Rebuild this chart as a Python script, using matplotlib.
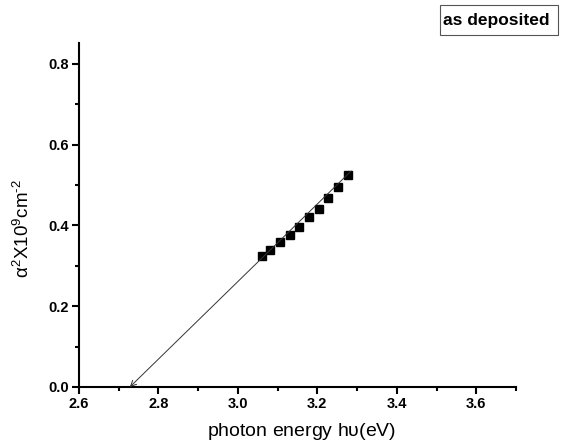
import numpy as np
import matplotlib
matplotlib.use("Agg")
import matplotlib.pyplot as plt
from matplotlib.ticker import MultipleLocator, FormatStrFormatter
from matplotlib.patches import Rectangle

plt.rcParams.update({
    "font.family": ["Liberation Sans", "DejaVu Sans"],
    "mathtext.fontset": "custom",
    "mathtext.rm": "Liberation Sans",
    "mathtext.it": "Liberation Sans",
    "mathtext.bf": "Liberation Sans:bold",
})

# ── datos ───────────────────────────────────────────────────
energia = [3.060, 3.082, 3.107, 3.130, 3.154, 3.179, 3.204, 3.228, 3.253, 3.278]
alfa2 = [0.324, 0.339, 0.358, 0.376, 0.396, 0.421, 0.441, 0.469, 0.496, 0.524]

# recta de ajuste extrapolada hasta el eje (Eg ~ 2.73 eV)
ajuste_x = [3.285, 2.728]
ajuste_y = [0.535, 0.0]

W, H = 563, 445
fig = plt.figure(figsize=(W / 100, H / 100), dpi=100)
ax = fig.add_axes([79 / W, 1 - 387 / H, 437 / W, 344 / H])

ax.plot(energia, alfa2, "s", color="black", ms=5.3, zorder=3)
ax.annotate("", xy=(ajuste_x[1], ajuste_y[1]), xytext=(ajuste_x[0], ajuste_y[0]),
            arrowprops=dict(arrowstyle="->", color="#333333", lw=0.7,
                            shrinkA=0, shrinkB=0, mutation_scale=10))

ax.set_xlim(2.6, 3.7)
ax.set_ylim(0, 0.852)
ax.xaxis.set_major_locator(MultipleLocator(0.2))
ax.xaxis.set_minor_locator(MultipleLocator(0.1))
ax.yaxis.set_major_locator(MultipleLocator(0.2))
ax.yaxis.set_minor_locator(MultipleLocator(0.1))
ax.xaxis.set_major_formatter(FormatStrFormatter("%.1f"))
ax.yaxis.set_major_formatter(FormatStrFormatter("%.1f"))

for s in ("top", "right"):
    ax.spines[s].set_visible(False)
for s in ("left", "bottom"):
    ax.spines[s].set_linewidth(1.5)

ax.tick_params(which="major", direction="out", length=5, width=1.5, pad=2.5,
               labelsize=10.5)
ax.tick_params(which="minor", direction="out", length=3, width=1.5)
for lab in ax.get_xticklabels() + ax.get_yticklabels():
    lab.set_fontweight("bold")

ax.set_xlabel(r"photon energy h$\upsilon$(eV)", fontsize=14)
ax.xaxis.set_label_coords(0.51, -0.098)
ax.set_ylabel("$\\alpha^2$X10$^9$cm$^{\u2010 2}$", fontsize=13.5)
ax.yaxis.set_label_coords(-0.105, 0.46)

# recuadro de la leyenda
fig.patches.append(Rectangle((440 / W, 1 - 35 / H), 118 / W, 30 / H,
                             transform=fig.transFigure, fc="white",
                             ec="#555555", lw=0.8))
fig.text(443 / W, 1 - 20 / H, "as deposited", fontsize=12.5, fontweight="bold",
         ha="left", va="center")

fig.savefig("out.png", dpi=100)
